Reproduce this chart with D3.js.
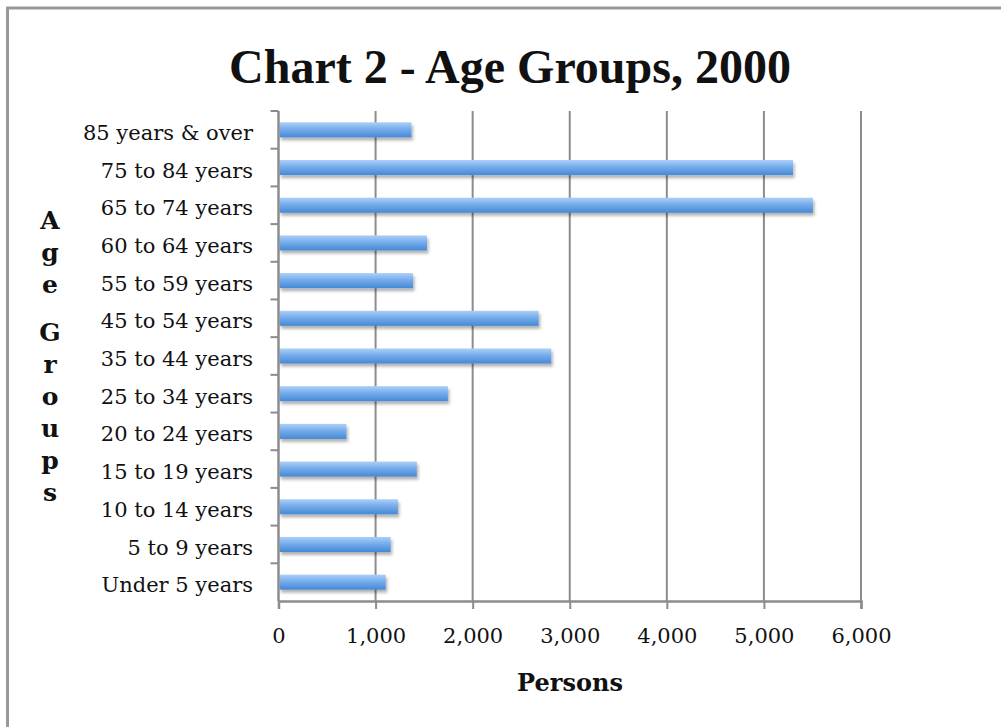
<!DOCTYPE html>
<html>
  <head>
    <meta charset="utf-8">
    <title>Chart 2 - Age Groups, 2000</title>
    <script src="https://d3js.org/d3.v7.min.js"></script>
    <style>
      body { margin: 0; background: #fff; }
      svg { display: block; }
      text { font-family: "DejaVu Serif", "Liberation Serif", serif; fill: #111; }
    </style>
  </head>
  <body>
    <svg width="1001" height="727"></svg>
    <script>
      // data, top to bottom
      var ageGroups = ["85 years & over", "75 to 84 years", "65 to 74 years", "60 to 64 years",
        "55 to 59 years", "45 to 54 years", "35 to 44 years", "25 to 34 years", "20 to 24 years",
        "15 to 19 years", "10 to 14 years", "5 to 9 years", "Under 5 years"];
      var persons = [1370, 5300, 5505, 1530, 1385, 2680, 2810, 1745, 700, 1425, 1230, 1155, 1105];
      var xTicks = [0, 1000, 2000, 3000, 4000, 5000, 6000];

      var svg = d3.select("svg");
      var margin = {top: 111, left: 278.5, right: 140, bottom: 126};
      var width = 1001 - margin.left - margin.right;
      var height = 727 - margin.top - margin.bottom;

      var x = d3.scaleLinear().domain([0, 6000]).range([margin.left, margin.left + width]);
      var y = d3.scaleBand().domain(ageGroups).range([margin.top, margin.top + height]).paddingInner(0.6).paddingOuter(0.3);
      var band = d3.scaleBand().domain(ageGroups).range([margin.top, margin.top + height]);

      // frame (left + top only)
      svg.append("path")
        .attr("d", "M7.5,727V8H1001")
        .attr("fill", "none")
        .attr("stroke", "#999")
        .attr("stroke-width", 3);

      var defs = svg.append("defs");
      var grad = defs.append("linearGradient").attr("id", "barGrad")
        .attr("x1", 0).attr("y1", 0).attr("x2", 0).attr("y2", 1);
      grad.append("stop").attr("offset", "0%").attr("stop-color", "#acd0f7");
      grad.append("stop").attr("offset", "45%").attr("stop-color", "#76acec");
      grad.append("stop").attr("offset", "100%").attr("stop-color", "#4589d5");
      var shadow = defs.append("filter").attr("id", "shadow")
        .attr("x", "-5%").attr("y", "-30%").attr("width", "110%").attr("height", "180%");
      shadow.append("feDropShadow").attr("dx", 1.5).attr("dy", 3).attr("stdDeviation", 1.8)
        .attr("flood-color", "#000").attr("flood-opacity", 0.3);

      // gridlines
      svg.append("g")
        .selectAll("line")
        .data(xTicks.slice(1))
        .join("line")
        .attr("x1", function(d) { return x(d); })
        .attr("x2", function(d) { return x(d); })
        .attr("y1", margin.top)
        .attr("y2", margin.top + height)
        .attr("stroke", "#8c8c8c")
        .attr("stroke-width", 2);

      // bars
      svg.append("g")
        .selectAll("rect")
        .data(persons)
        .join("rect")
        .attr("x", x(0) + 1)
        .attr("y", function(d, i) { return y(ageGroups[i]); })
        .attr("width", function(d) { return x(d) - x(0) - 1; })
        .attr("height", y.bandwidth())
        .attr("fill", "url(#barGrad)")
        .attr("filter", "url(#shadow)");

      // x axis
      var xAxis = svg.append("g")
        .attr("transform", "translate(0," + (margin.top + height) + ")")
        .call(d3.axisBottom(x).tickValues(xTicks).tickSize(8).tickPadding(19).tickFormat(d3.format(",")));
      xAxis.select(".domain").attr("stroke", "#8c8c8c").attr("stroke-width", 2.5);
      xAxis.selectAll(".tick line").attr("stroke", "#8c8c8c").attr("stroke-width", 2);
      xAxis.selectAll(".tick text")
        .style("font-family", "'DejaVu Serif', serif")
        .style("font-size", "21px").attr("fill", "#111").attr("dy", "0.71em");

      // y axis: ticks on band boundaries
      var yAxis = svg.append("g");
      yAxis.append("line")
        .attr("x1", x(0)).attr("x2", x(0))
        .attr("y1", margin.top).attr("y2", margin.top + height)
        .attr("stroke", "#8c8c8c").attr("stroke-width", 2.5);
      yAxis.selectAll("line.tk")
        .data(ageGroups)
        .join("line")
        .attr("class", "tk")
        .attr("x1", x(0) - 8).attr("x2", x(0))
        .attr("y1", function(d) { return band(d); })
        .attr("y2", function(d) { return band(d); })
        .attr("stroke", "#8c8c8c").attr("stroke-width", 2);
      yAxis.selectAll("text")
        .data(ageGroups)
        .join("text")
        .attr("x", 253)
        .attr("y", function(d) { return band(d) + band.bandwidth() / 2; })
        .attr("dy", "0.48em")
        .attr("text-anchor", "end")
        .style("font-size", "21px")
        .text(function(d) { return d; });

      // title
      svg.append("text")
        .attr("x", 510)
        .attr("y", 83)
        .attr("text-anchor", "middle")
        .style("font-family", "'Liberation Serif', serif")
        .style("font-size", "48px")
        .style("font-weight", "bold")
        .text("Chart 2 - Age Groups, 2000");

      // x title
      svg.append("text")
        .attr("x", 570)
        .attr("y", 691)
        .attr("text-anchor", "middle")
        .style("font-size", "24px")
        .style("font-weight", "bold")
        .text("Persons");

      // y title, stacked letters
      var yTitle = "Age Groups".split("");
      var yPos = [];
      var cur = 229;
      yTitle.forEach(function(c) {
        if (c === " ") { cur += 16; return; }
        yPos.push(cur);
        cur += 32;
      });
      svg.append("g")
        .selectAll("text")
        .data(yTitle.filter(function(c) { return c !== " "; }))
        .join("text")
        .attr("x", 50)
        .attr("y", function(d, i) { return yPos[i]; })
        .attr("text-anchor", "middle")
        .style("font-size", "25px")
        .style("font-weight", "bold")
        .text(function(d) { return d; });
    </script>
  </body>
</html>
